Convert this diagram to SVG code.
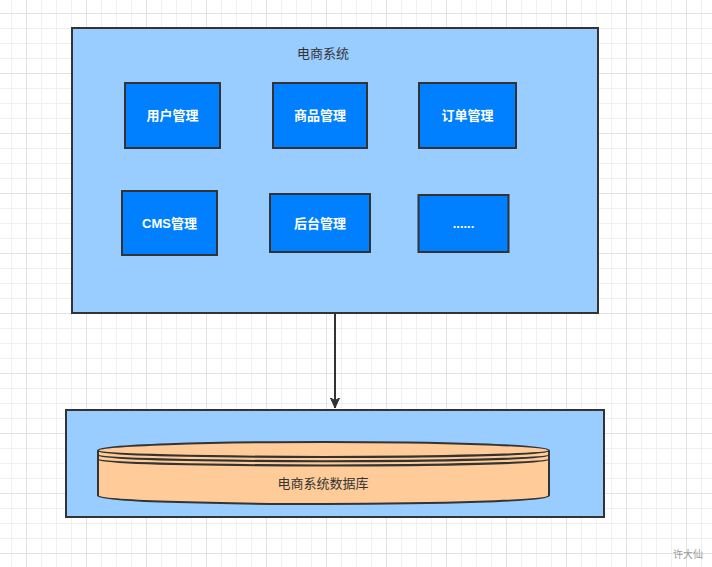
<svg xmlns="http://www.w3.org/2000/svg" width="712" height="567" viewBox="0 0 712 567">
  <defs>
    <pattern id="grid" x="26" y="13" width="60" height="60" patternUnits="userSpaceOnUse">
      <path d="M15.5,0V60M30.5,0V60M45.5,0V60M0,15.5H60M0,30.5H60M0,45.5H60" stroke="#f0f0f0" stroke-width="1" fill="none"/>
      <path d="M0.5,0V60M0,0.5H60" stroke="#e2e2e2" stroke-width="1" fill="none"/>
    </pattern>
    <marker id="arrow" viewBox="0 0 10 12" refX="10" refY="6" markerWidth="10" markerHeight="12" markerUnits="userSpaceOnUse" orient="auto">
      <path d="M0,1.5 L10,6 L0,10.5 L2.5,6 Z" fill="#333333" stroke="#333333" stroke-width="1"/>
    </marker>
  </defs>
  <style>
    .container { fill: #99CCFF; stroke: #333333; stroke-width: 2; }
    .module { fill: #007FFF; stroke: #333333; stroke-width: 2; }
    .modtext { fill: #FFFFFF; font-family: "Liberation Sans", "Noto Sans CJK SC", sans-serif; font-size: 13px; font-weight: bold; text-anchor: middle; dominant-baseline: central; }
    .label { fill: #333333; font-family: "Liberation Sans", "Noto Sans CJK SC", sans-serif; font-size: 13px; text-anchor: middle; dominant-baseline: central; }
    .db { fill: #FFCC99; stroke: #333333; stroke-width: 2; }
    .dbline { fill: none; stroke: #333333; stroke-width: 2; }
    .edge { fill: none; stroke: #333333; stroke-width: 2; }
  </style>
  <rect x="0" y="0" width="712" height="567" fill="#ffffff"/>
  <rect x="0" y="0" width="712" height="567" fill="url(#grid)"/>

  <g id="system">
    <rect class="container" x="72" y="28" width="526" height="285"/>
    <text class="label" x="323" y="53">电商系统</text>
  </g>

  <g id="user">
    <rect class="module" x="125" y="83" width="95" height="65"/>
    <text class="modtext" x="172.5" y="115.5">用户管理</text>
  </g>
  <g id="product">
    <rect class="module" x="273" y="83" width="94" height="65"/>
    <text class="modtext" x="320" y="115.5">商品管理</text>
  </g>
  <g id="order">
    <rect class="module" x="419" y="83" width="97" height="65"/>
    <text class="modtext" x="467.5" y="115.5">订单管理</text>
  </g>
  <g id="cms">
    <rect class="module" x="122" y="191" width="95" height="64"/>
    <text class="modtext" x="169.5" y="223">CMS管理</text>
  </g>
  <g id="admin">
    <rect class="module" x="270" y="194" width="100" height="58"/>
    <text class="modtext" x="320" y="223">后台管理</text>
  </g>
  <g id="more">
    <rect class="module" x="418.5" y="195" width="90" height="57"/>
    <text class="modtext" x="463.5" y="223">......</text>
  </g>

  <g id="dbcontainer">
    <rect class="container" x="66" y="410" width="538" height="107"/>
  </g>

  <g id="database">
    <path class="db" d="M98,450.5 C98,439.17 549,439.17 549,450.5 L549,495.5 C549,506.83 98,506.83 98,495.5 Z"/>
    <path class="dbline" d="M98,450.5 C98,459 549,459 549,450.5 M98,454.75 C98,463.25 549,463.25 549,454.75 M98,459 C98,467.5 549,467.5 549,459"/>
    <text class="label" x="323" y="483.5">电商系统数据库</text>
  </g>

  <g id="connectors">
    <path class="edge" d="M335,314 L335,408" marker-end="url(#arrow)"/>
  </g>

  <text x="688" y="554" fill="#999999" font-family="Liberation Sans, Noto Sans CJK SC, sans-serif" font-size="10px" text-anchor="middle" dominant-baseline="central">许大仙</text>
</svg>
